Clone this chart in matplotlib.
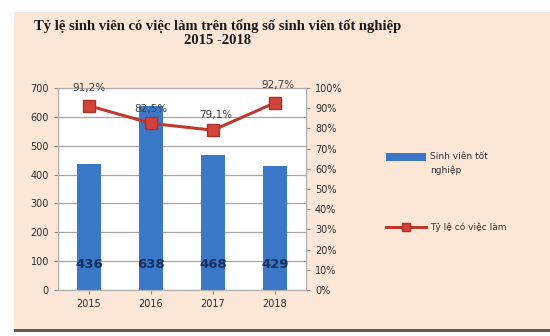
import matplotlib.pyplot as plt
import numpy as np
from matplotlib.patches import Rectangle

years = ['2015', '2016', '2017', '2018']
sinh_vien = [436, 638, 468, 429]
ty_le = [91.2, 82.5, 79.1, 92.7]
ty_le_labels = ['91,2%', '82,5%', '79,1%', '92,7%']

title = 'Tỷ lệ sinh viên có việc làm trên tổng số sinh viên tốt nghiệp\n2015 -2018'

bg = '#fce6d8'
bar_c = '#3b78c8'
line_c = '#c0392f'

fig = plt.figure(figsize=(5.5, 3.36), dpi=100)
fig.patch.set_facecolor('white')

# peach chart area with a dark bottom edge
fig.patches.append(Rectangle((14/550, 6/336), 1 - 14/550, 1 - 18/336,
                             transform=fig.transFigure, facecolor=bg,
                             edgecolor='none', zorder=-5))
fig.patches.append(Rectangle((14/550, 4/336), 1 - 14/550, 3/336,
                             transform=fig.transFigure, facecolor='#6b5a5a',
                             edgecolor='none', zorder=-5))

ax = fig.add_axes([58/550, 1 - 290/336, 248/550, 202/336])
ax.set_facecolor('white')
x = np.arange(len(years))
ax.bar(x, sinh_vien, width=0.39, color=bar_c, zorder=2)
ax.set_ylim(0, 700)
ax.set_xlim(-0.5, 3.5)
ax.set_yticks(range(0, 701, 100))
ax.yaxis.grid(True, color='#a6a6a6', lw=0.9, zorder=1)
ax.set_axisbelow(True)
ax.set_xticks(x)
ax.set_xticklabels(years)
for s in ax.spines.values():
    s.set_color('#b0b0b0')
ax.tick_params(labelsize=7, colors='#303030', length=3, color='#909090')
for xi, v in zip(x, sinh_vien):
    ax.text(xi, 90, str(v), ha='center', va='center', fontsize=9.5,
            color='#17305e', fontweight='bold', zorder=3)

ax2 = ax.twinx()
ax2.plot(x, ty_le, color=line_c, lw=2.2, marker='s', ms=8,
         markerfacecolor='#d2433a', markeredgecolor='#b03028', zorder=4)
ax2.set_ylim(0, 100)
ax2.set_yticks(range(0, 101, 10))
ax2.set_yticklabels([f'{v}%' for v in range(0, 101, 10)])
ax2.tick_params(labelsize=7, colors='#303030', length=3, color='#909090')
for s in ax2.spines.values():
    s.set_color('#b0b0b0')
offs = [(0, 9), (0, 7), (2, 7), (2, 9)]
for xi, v, lab, (dx, dy) in zip(x, ty_le, ty_le_labels, offs):
    ax2.annotate(lab, (xi, v), xytext=(dx, dy), textcoords='offset points',
                 ha='center', va='bottom', fontsize=7.5, color='#404040',
                 annotation_clip=False)

fig.text(0.395, 1 - 19/336, title, ha='center', va='top', fontsize=10.5,
         fontweight='bold', family='Liberation Serif', color='#1a1a1a',
         linespacing=1.1)

# legend
fig.patches.append(Rectangle((386/550, 1 - 161/336), 40/550, 8/336,
                             transform=fig.transFigure, facecolor=bar_c,
                             edgecolor='none'))
fig.text(430/550, 1 - 152/336, 'Sinh viên tốt\nnghiệp', ha='left', va='top',
         fontsize=6.5, color='#303030', linespacing=1.6)
leg_line = plt.Line2D([386/550, 406/550, 426/550], [1 - 227/336] * 3,
                      transform=fig.transFigure, color=line_c, lw=2.2,
                      marker='s', ms=6, markevery=[1],
                      markerfacecolor='#d2433a', markeredgecolor='#b03028')
fig.lines.append(leg_line)
fig.text(430/550, 1 - 227/336, 'Tỷ lệ có việc làm', ha='left', va='center',
         fontsize=6.5, color='#303030')

fig.savefig('out.png', dpi=100)
